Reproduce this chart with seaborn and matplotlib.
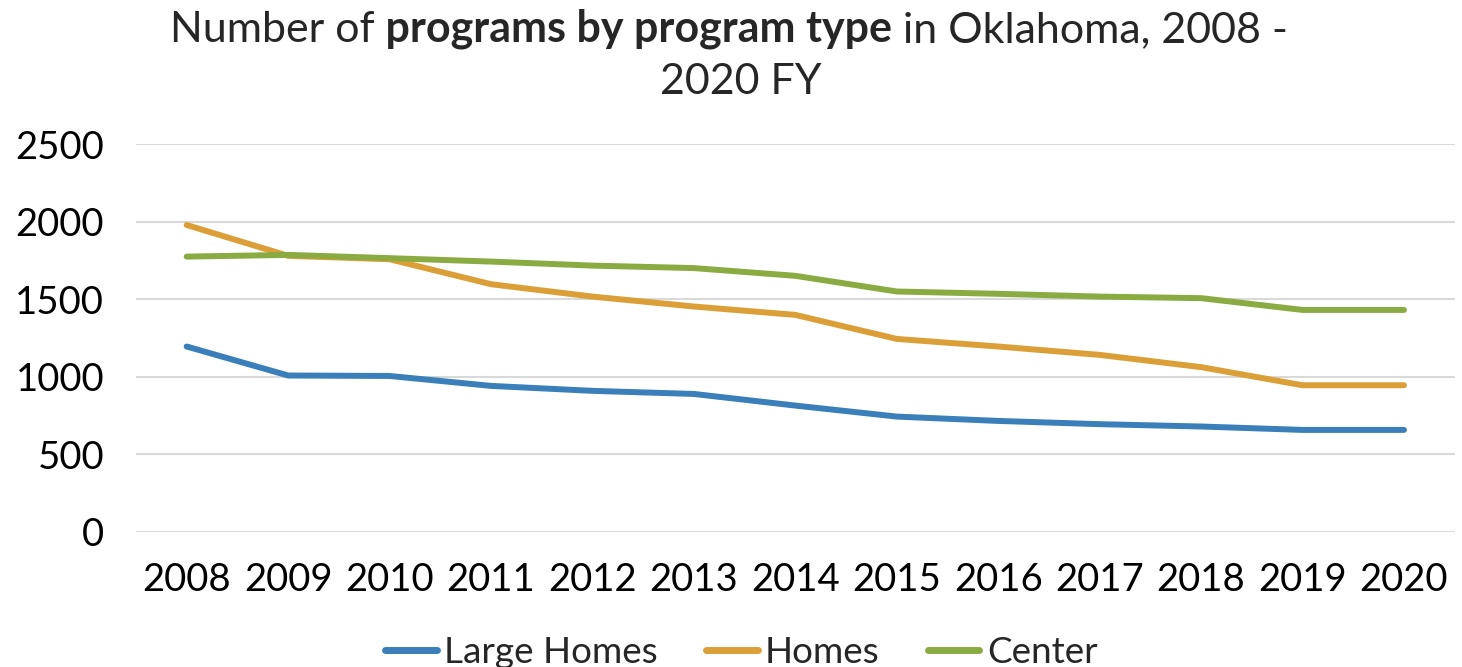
import pandas as pd
import matplotlib.pyplot as plt
import seaborn as sns

years = [2008, 2009, 2010, 2011, 2012, 2013, 2014, 2015, 2016, 2017, 2018, 2019, 2020]
large_homes = [1194, 1007, 1004, 940, 908, 888, 813, 742, 714, 693, 678, 656, 656]
homes = [1978, 1779, 1757, 1596, 1516, 1452, 1398, 1243, 1194, 1140, 1061, 944, 944]
center = [1774, 1785, 1764, 1742, 1716, 1700, 1650, 1549, 1534, 1516, 1506, 1430, 1430]
series_names = ['Large Homes', 'Homes', 'Center']
colors = ['#3a7fba', '#dc9f37', '#8aab41']

df = pd.DataFrame({'Year': [str(y) for y in years] * 3,
                   'Programs': large_homes + homes + center,
                   'Type': [n for n in series_names for _ in years]})

sns.set_style('white')
plt.rcParams['font.family'] = ['Lato', 'DejaVu Sans']

fig = plt.figure(figsize=(14.62, 6.67), dpi=100)
ax = fig.add_axes([0.093, 0.203, 0.902, 0.581])

sns.lineplot(data=df, x='Year', y='Programs', hue='Type', palette=colors,
             linewidth=4.3, ax=ax, legend=True, solid_capstyle='round')

ax.set_xlim(-0.5, len(years) - 0.5)
ax.set_ylim(0, 2500)
ax.set_yticks([0, 500, 1000, 1500, 2000, 2500])
ax.grid(axis='y', color='#d9d9d9', linewidth=1.5)
ax.set_axisbelow(True)
for s in ax.spines.values():
    s.set_visible(False)
ax.tick_params(axis='both', length=0, labelsize=27.5, colors='black')
ax.tick_params(axis='x', pad=22)
ax.tick_params(axis='y', pad=23)
ax.set_xlabel('')
ax.set_ylabel('')

handles, labels = ax.get_legend_handles_labels()
for h in handles:
    h.set_linewidth(5)
ax.get_legend().remove()
fig.legend(handles, labels, loc='center', bbox_to_anchor=(0.507, 0.022), ncol=3,
           frameon=False, fontsize=26.6, handlelength=1.4, handletextpad=0.2,
           columnspacing=1.3)

# title with a bold middle part
fs = 31
p1 = fig.text(0, 0, 'Number of', fontsize=fs, va='baseline')
p2 = ax.annotate(' programs by program type', xy=(1, 0), xycoords=p1,
                 va='bottom', fontsize=fs, fontweight='bold')
p3 = ax.annotate(' in Oklahoma, 2008 -', xy=(1, 0), xycoords=p2,
                 va='bottom', fontsize=fs)
fig.canvas.draw()
r = fig.canvas.get_renderer()
w = sum(t.get_window_extent(r).width for t in (p1, p2, p3))
W = fig.bbox.width
p1.set_position((0.4985 - w / 2 / W, 0.937))
fig.text(0.507, 0.859, '2020 FY', fontsize=fs, ha='center', va='baseline')

plt.savefig('out.png', dpi=100)
